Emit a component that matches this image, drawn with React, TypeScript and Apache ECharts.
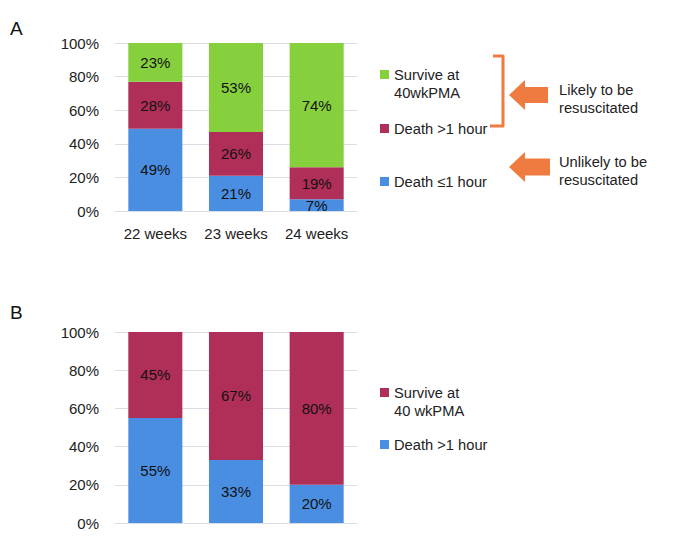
import React, { useEffect, useRef } from "react";
import * as echarts from "echarts";

const categories = ["22 weeks", "23 weeks", "24 weeks"];
const yTicks = [0, 20, 40, 60, 80, 100];

// Panel A
const aDeathLe1h = [49, 21, 7];
const aDeathGt1h = [28, 26, 19];
const aSurvive = [23, 53, 74];

// Panel B
const bDeathGt1h = [55, 33, 20];
const bSurvive = [45, 67, 80];

const GREEN = "#86D03E";
const RED = "#B02F58";
const BLUE = "#4A8EE2";
const ORANGE = "#F07B40";
const FONT = "Liberation Sans";
const FS = 15;
const LFS = 14.7;

export default function App() {
  const ref = useRef<HTMLDivElement>(null);
  useEffect(() => {
    if (!ref.current) return;
    const chart = echarts.init(ref.current, undefined, { renderer: "svg" });
    const label = {
      show: true,
      position: "inside",
      color: "#111",
      fontSize: FS,
      fontFamily: FONT,
      formatter: "{c}%",
    };
    const yAxisCommon = {
      type: "value",
      min: yTicks[0],
      max: yTicks[yTicks.length - 1],
      interval: 20,
      axisLabel: { formatter: "{value}%", color: "#222", fontSize: FS, fontFamily: FONT, margin: 16 },
      splitLine: { lineStyle: { color: "#D8DEE4", width: 1 } },
      axisLine: { show: false },
      axisTick: { show: false },
    };
    const textItem = (x: number, y: number, lines: string[]) => ({
      type: "text",
      x,
      y: y - 9,
      style: { text: lines.join("\n"), fontSize: LFS, fontFamily: FONT, fill: "#222", lineHeight: 18 },
    });
    const arrow = (tipX: number, tipY: number, headBack: number, headHalf: number, bodyEnd: number, bodyHalf: number) => ({
      type: "polygon",
      shape: {
        points: [
          [tipX, tipY],
          [headBack, tipY - headHalf],
          [headBack, tipY - bodyHalf],
          [bodyEnd, tipY - bodyHalf],
          [bodyEnd, tipY + bodyHalf],
          [headBack, tipY + bodyHalf],
          [headBack, tipY + headHalf],
        ],
      },
      style: { fill: ORANGE },
    });
    chart.setOption({
      animation: false,
      grid: [
        { left: 115, width: 242, top: 43, height: 168 },
        { left: 115, width: 242, top: 332, height: 191 },
      ],
      xAxis: [
        {
          type: "category",
          gridIndex: 0,
          data: categories,
          axisLine: { lineStyle: { color: "#D8DEE4" } },
          axisTick: { show: false },
          axisLabel: { color: "#222", fontSize: FS, fontFamily: FONT, margin: 15, interval: 0, hideOverlap: false },
        },
        {
          type: "category",
          gridIndex: 1,
          data: categories,
          axisLine: { lineStyle: { color: "#D8DEE4" } },
          axisTick: { show: false },
          axisLabel: { show: false },
        },
      ],
      yAxis: [
        { ...yAxisCommon, gridIndex: 0 },
        { ...yAxisCommon, gridIndex: 1 },
      ],
      series: [
        { name: "Death ≤1 hour", type: "bar", stack: "a", xAxisIndex: 0, yAxisIndex: 0, data: aDeathLe1h, barWidth: "67%", itemStyle: { color: BLUE }, label },
        { name: "Death >1 hour", type: "bar", stack: "a", xAxisIndex: 0, yAxisIndex: 0, data: aDeathGt1h, itemStyle: { color: RED }, label },
        { name: "Survive at 40wkPMA", type: "bar", stack: "a", xAxisIndex: 0, yAxisIndex: 0, data: aSurvive, itemStyle: { color: GREEN }, label },
        { name: "B Death >1 hour", type: "bar", stack: "b", xAxisIndex: 1, yAxisIndex: 1, data: bDeathGt1h, barWidth: "67%", itemStyle: { color: BLUE }, label },
        { name: "B Survive at 40 wkPMA", type: "bar", stack: "b", xAxisIndex: 1, yAxisIndex: 1, data: bSurvive, itemStyle: { color: RED }, label },
      ],
      graphic: [
        { type: "text", x: 10, y: 19, style: { text: "A", fontSize: 19, fontFamily: FONT, fill: "#111" } },
        { type: "text", x: 10, y: 303, style: { text: "B", fontSize: 19, fontFamily: FONT, fill: "#111" } },
        // Legend A
        { type: "rect", shape: { x: 380, y: 70, width: 9, height: 9 }, style: { fill: GREEN } },
        textItem(394, 75, ["Survive at", "40wkPMA"]),
        { type: "rect", shape: { x: 380, y: 124, width: 9, height: 9 }, style: { fill: RED } },
        textItem(394, 129, ["Death >1 hour"]),
        { type: "rect", shape: { x: 380, y: 177, width: 9, height: 9 }, style: { fill: BLUE } },
        textItem(394, 182, ["Death ≤1 hour"]),
        // Bracket
        {
          type: "polyline",
          shape: { points: [[493, 56], [503, 56], [503, 126], [490, 126]] },
          style: { stroke: ORANGE, lineWidth: 3, fill: null, lineJoin: "round" },
        },
        arrow(509, 95, 525, 15, 548, 8),
        arrow(509, 167, 525, 15, 550, 8.5),
        textItem(559, 90, ["Likely to be", "resuscitated"]),
        textItem(559, 162, ["Unlikely to be", "resuscitated"]),
        // Legend B
        { type: "rect", shape: { x: 380, y: 388, width: 9, height: 9 }, style: { fill: RED } },
        textItem(394, 393, ["Survive at", "40 wkPMA"]),
        { type: "rect", shape: { x: 380, y: 440, width: 9, height: 9 }, style: { fill: BLUE } },
        textItem(394, 445, ["Death >1 hour"]),
      ],
    });
    return () => chart.dispose();
  }, []);
  return <div ref={ref} style={{ width: 679, height: 539, position: "absolute", left: 0, top: 0, background: "#fff" }} />;
}
